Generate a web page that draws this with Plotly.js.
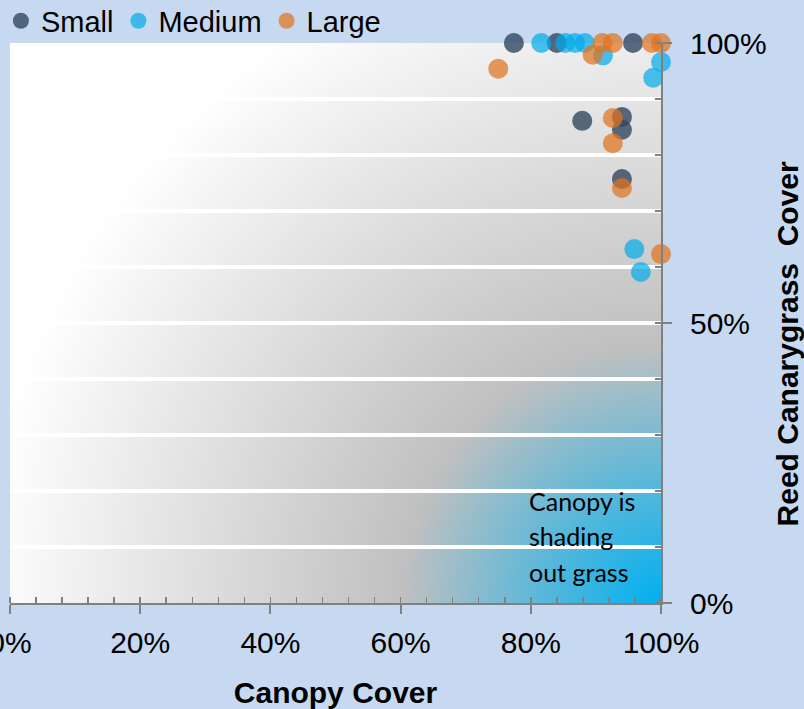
<!DOCTYPE html>
<html>
<head>
<meta charset="utf-8">
<script src="https://cdn.plot.ly/plotly-3.0.1.min.js"></script>
<style>
  html, body { margin: 0; padding: 0; background: #c6d9f0; }
  #chart { width: 804px; height: 709px; }
</style>
</head>
<body>
<div id="chart"></div>
<script>
// Canopy cover (%) vs Reed Canarygrass cover (%)
const smallX  = [77.4, 84.0, 95.7, 87.9, 94.0, 94.0, 94.0];
const smallY  = [100, 100, 100, 86.1, 86.8, 84.5, 75.7];
const mediumX = [81.6, 85.3, 86.8, 88.3, 91.1, 100, 98.8, 95.9, 96.9];
const mediumY = [100, 100, 100, 100, 97.8, 96.6, 93.8, 63.2, 59.1];
const largeX  = [75.0, 89.5, 91.0, 92.6, 98.6, 100, 92.6, 92.6, 94.0, 100];
const largeY  = [95.4, 97.9, 100, 100, 100, 100, 86.6, 82.1, 74.1, 62.3];
const seriesNames = ['Small', 'Medium', 'Large'];
const noteLines = ['Canopy is', 'shading', 'out grass'];
const noteY = [18.2, 11.9, 5.6];

const colors = ['rgba(50,70,96,0.8)', 'rgba(2,171,233,0.7)', 'rgba(224,115,31,0.72)'];
const xs = [smallX, mediumX, largeX];
const ys = [smallY, mediumY, largeY];

const traces = seriesNames.map((n, i) => ({
  type: 'scatter', mode: 'markers', name: n,
  x: xs[i], y: ys[i], cliponaxis: false,
  marker: { size: 20, color: colors[i], line: { width: 0 } }
}));

const svg = '<svg xmlns="http://www.w3.org/2000/svg" width="651" height="560" viewBox="0 0 651 560" preserveAspectRatio="none">' +
  '<defs><radialGradient id="g" gradientUnits="userSpaceOnUse" cx="651" cy="560" r="680">' +
  '<stop offset="0" stop-color="#00b0f0"/><stop offset="0.38" stop-color="#c0c0c0"/><stop offset="1" stop-color="#ffffff"/>' +
  '</radialGradient></defs><rect width="651" height="560" fill="url(#g)"/></svg>';

const FONT = 'Liberation Sans, Arial, sans-serif';

const layout = {
  width: 804, height: 709,
  paper_bgcolor: '#c6d9f0',
  plot_bgcolor: 'rgba(0,0,0,0)',
  margin: { l: 10, r: 143, t: 43, b: 106, autoexpand: false },
  font: { family: FONT, color: '#000' },
  showlegend: true,
  legend: {
    orientation: 'h', xref: 'paper', yref: 'paper',
    x: -0.014, y: 1.085, xanchor: 'left', yanchor: 'top',
    bgcolor: 'rgba(0,0,0,0)', font: { size: 29, family: FONT },
    itemclick: false
  },
  xaxis: {
    range: [0, 100], dtick: 20, ticksuffix: '%',
    showgrid: false, zeroline: false,
    showline: true, linecolor: '#808080', linewidth: 2,
    ticks: 'outside', ticklen: 9, tickwidth: 2, tickcolor: '#808080',
    tickfont: { size: 30, family: FONT },
    ticklabelstandoff: 3,
    ticklabeloverflow: 'allow',
    minor: { dtick: 4, ticks: 'inside', ticklen: 6, tickwidth: 1.5, tickcolor: '#808080', showgrid: false },
    title: { text: '<b>Canopy Cover</b>', font: { size: 30, family: FONT } }
  },
  yaxis: {
    side: 'right', range: [0, 100], dtick: 50, ticksuffix: '%',
    showgrid: true, gridcolor: '#ffffff', gridwidth: 4, zeroline: false,
    showline: true, linecolor: '#808080', linewidth: 2,
    ticks: 'outside', ticklen: 9, tickwidth: 2, tickcolor: '#808080',
    tickfont: { size: 30, family: FONT },
    ticklabelstandoff: 12,
    ticklabeloverflow: 'allow',
    minor: { dtick: 10, ticks: 'inside', ticklen: 6, tickwidth: 1.5, tickcolor: '#808080', showgrid: true, gridcolor: '#ffffff', gridwidth: 4 },
    title: { text: '<b>Reed Canarygrass\u00a0 Cover\u00a0\u00a0\u00a0\u00a0\u00a0</b>', standoff: 28, font: { size: 30, family: FONT } }
  },
  images: [{
    source: 'data:image/svg+xml;charset=utf-8,' + encodeURIComponent(svg),
    xref: 'paper', yref: 'paper', x: 0, y: 1, sizex: 1, sizey: 1,
    xanchor: 'left', yanchor: 'top', sizing: 'stretch', layer: 'below'
  }],
  annotations: noteLines.map((t, i) => ({
    text: t, x: 79.4, y: noteY[i], xref: 'x', yref: 'y',
    xanchor: 'left', yanchor: 'middle', showarrow: false,
    font: { family: 'Lato, Open Sans, sans-serif', size: 25, color: '#000' }
  }))
};

Plotly.newPlot('chart', traces, layout, { staticPlot: true, displayModeBar: false });
</script>
</body>
</html>
